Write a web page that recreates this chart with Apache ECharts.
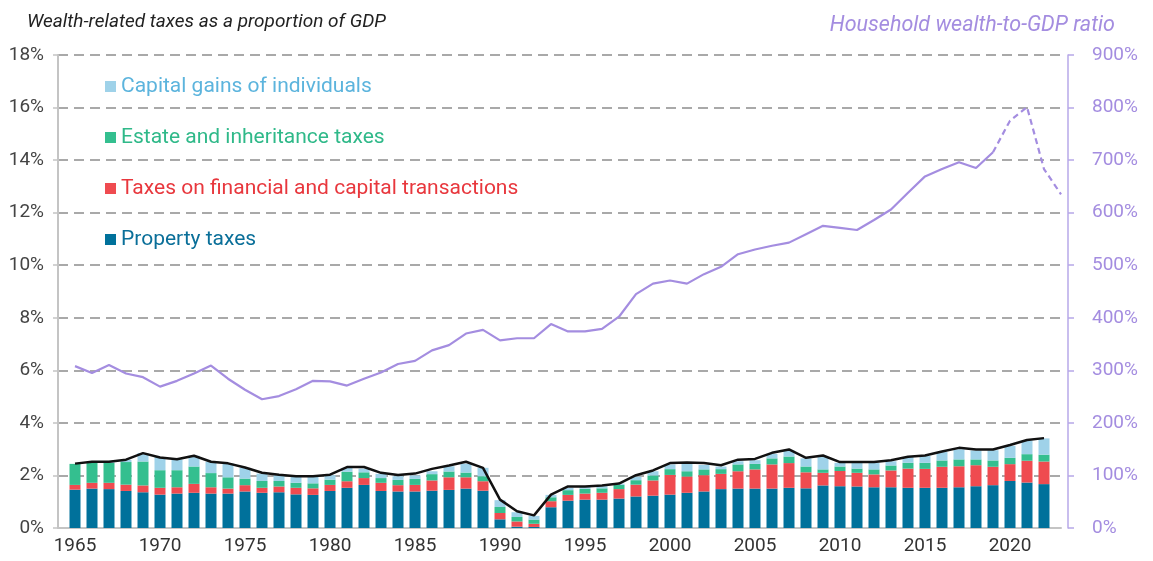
<!DOCTYPE html>
<html>
<head>
<meta charset="utf-8">
<script src="https://cdn.jsdelivr.net/npm/echarts@6/dist/echarts.min.js"></script>
<style>
  html, body { margin: 0; padding: 0; background: #fff; }
  #chart { width: 1153px; height: 561px; }
</style>
</head>
<body>
<div id="chart"></div>
<script>
// Years on the axis (1964 and 2023 only pad the ends)
var years = [];
for (var y = 1964; y <= 2023; y++) years.push(String(y));

// Wealth-related taxes, % of GDP, 1965-2022
var propertyTaxes = [1.46, 1.50, 1.48, 1.41, 1.36, 1.27, 1.31, 1.34, 1.31, 1.31,
  1.39, 1.34, 1.36, 1.28, 1.26, 1.41, 1.53, 1.64, 1.41, 1.39,
  1.39, 1.42, 1.45, 1.50, 1.42, 0.33, 0.05, 0.04, 0.79, 1.04,
  1.08, 1.08, 1.12, 1.20, 1.23, 1.27, 1.34, 1.39, 1.48, 1.50,
  1.50, 1.50, 1.53, 1.51, 1.62, 1.59, 1.58, 1.55, 1.55, 1.53,
  1.53, 1.53, 1.55, 1.59, 1.63, 1.79, 1.73, 1.67];
var financialTaxes = [0.18, 0.22, 0.24, 0.24, 0.26, 0.26, 0.24, 0.34, 0.24, 0.19,
  0.24, 0.19, 0.22, 0.25, 0.25, 0.23, 0.25, 0.26, 0.31, 0.24,
  0.25, 0.39, 0.48, 0.43, 0.36, 0.24, 0.20, 0.12, 0.23, 0.22,
  0.23, 0.26, 0.36, 0.45, 0.58, 0.75, 0.62, 0.62, 0.58, 0.66,
  0.73, 0.92, 0.94, 0.61, 0.48, 0.58, 0.52, 0.49, 0.64, 0.73,
  0.72, 0.80, 0.80, 0.80, 0.70, 0.64, 0.83, 0.86];
var estateTaxes = [0.80, 0.76, 0.76, 0.86, 0.91, 0.67, 0.65, 0.66, 0.54, 0.43,
  0.25, 0.26, 0.21, 0.19, 0.19, 0.20, 0.36, 0.22, 0.18, 0.20,
  0.23, 0.24, 0.22, 0.18, 0.19, 0.23, 0.17, 0.16, 0.15, 0.18,
  0.18, 0.17, 0.16, 0.17, 0.19, 0.22, 0.20, 0.22, 0.18, 0.26,
  0.21, 0.23, 0.25, 0.22, 0.13, 0.17, 0.16, 0.19, 0.19, 0.22,
  0.23, 0.24, 0.26, 0.22, 0.24, 0.24, 0.25, 0.26];
var capitalGains = [0.00, 0.04, 0.04, 0.08, 0.32, 0.50, 0.41, 0.41, 0.43, 0.53,
  0.41, 0.28, 0.22, 0.23, 0.25, 0.17, 0.15, 0.14, 0.16, 0.14,
  0.13, 0.11, 0.20, 0.34, 0.32, 0.26, 0.18, 0.14, 0.09, 0.09,
  0.09, 0.08, 0.05, 0.13, 0.16, 0.18, 0.28, 0.17, 0.10, 0.12,
  0.14, 0.17, 0.23, 0.31, 0.47, 0.14, 0.22, 0.25, 0.16, 0.22,
  0.26, 0.32, 0.38, 0.34, 0.39, 0.46, 0.52, 0.62];
var totalTaxes = [2.45, 2.52, 2.52, 2.60, 2.85, 2.68, 2.62, 2.75, 2.52, 2.46,
  2.30, 2.10, 2.03, 1.97, 1.97, 2.03, 2.32, 2.32, 2.10, 2.02,
  2.07, 2.25, 2.38, 2.52, 2.29, 1.08, 0.64, 0.48, 1.27, 1.58,
  1.58, 1.62, 1.69, 2.01, 2.19, 2.47, 2.49, 2.47, 2.39, 2.60,
  2.63, 2.86, 2.99, 2.67, 2.76, 2.51, 2.51, 2.51, 2.58, 2.71,
  2.76, 2.91, 3.05, 2.99, 2.99, 3.16, 3.35, 3.42];

// Household wealth-to-GDP ratio, %, 1965-2023 (dashed from 2019)
var wealthRatio = [308, 295, 310, 294, 287, 269, 280, 294, 309, 284,
  263, 245, 251, 264, 280, 279, 271, 284, 296, 312,
  318, 338, 348, 370, 377, 357, 361, 361, 388, 374,
  374, 379, 402, 445, 465, 471, 465, 483, 497, 521,
  530, 537, 543, 559, 575, 571, 567, 586, 606, 638,
  669, 683, 696, 685, 715, 775, 801, 683, 635];
var dashFrom = '2019';

var leftTicks = { min: 0, max: 18, interval: 2 };
var rightTicks = { min: 0, max: 900, interval: 100 };

var colors = {
  property: '#00719b',
  financial: '#ef4b50',
  estate: '#34bf8f',
  gains: '#9fd2e9',
  wealth: '#a48de0'
};
var font = 'Roboto, "Noto Sans", sans-serif';

// pad the series so index 0 is the empty 1964 slot
function pad(arr) { return ['-'].concat(arr); }

var wealthAll = pad(wealthRatio);
var cut = years.indexOf(dashFrom);
var wealthSolid = wealthAll.map(function (v, i) { return i <= cut ? v : '-'; });
var wealthDashed = wealthAll.map(function (v, i) { return i >= cut ? v : '-'; });

function barSeries(name, data, color) {
  return {
    name: name,
    type: 'bar',
    stack: 'tax',
    barWidth: 11,
    data: pad(data),
    itemStyle: { color: color },
    emphasis: { disabled: true }
  };
}

var myChart = echarts.init(document.getElementById('chart'));

myChart.setOption({
  animation: false,
  textStyle: { fontFamily: font },
  title: [{
    text: 'Wealth-related taxes as a proportion of GDP',
    left: 22, top: 8,
    textStyle: { fontFamily: font, fontStyle: 'italic', fontWeight: 'normal', fontSize: 19, color: '#222' }
  }, {
    text: 'Household wealth-to-GDP ratio',
    right: 33, top: 10,
    textStyle: { fontFamily: font, fontStyle: 'italic', fontWeight: 'normal', fontSize: 21.5, color: colors.wealth }
  }],
  legend: {
    orient: 'vertical',
    left: 100, top: 71,
    icon: 'rect',
    itemWidth: 11, itemHeight: 11,
    itemGap: 30,
    textStyle: { fontFamily: font, fontSize: 21 },
    data: [
      { name: 'Capital gains of individuals', textStyle: { color: '#5cb4dd' } },
      { name: 'Estate and inheritance taxes', textStyle: { color: '#2fb989' } },
      { name: 'Taxes on financial and capital transactions', textStyle: { color: '#e8373d' } },
      { name: 'Property taxes', textStyle: { color: '#0a6f99' } }
    ]
  },
  grid: { left: 58, right: 92, top: 55, bottom: 33 },
  xAxis: {
    type: 'category',
    data: years,
    boundaryGap: false,
    axisLine: { lineStyle: { color: '#c4c4c4', width: 2 } },
    axisTick: { show: false },
    axisLabel: {
      interval: function (i, v) { return Number(v) % 5 === 0; },
      color: '#333', fontSize: 19, margin: 9
    },
    splitLine: { show: false }
  },
  yAxis: [{
    type: 'value',
    min: leftTicks.min, max: leftTicks.max, interval: leftTicks.interval,
    axisLine: { show: true, lineStyle: { color: '#c4c4c4', width: 2 } },
    axisTick: { show: true, length: 5, lineStyle: { color: '#c4c4c4', width: 1.5 } },
    axisLabel: { formatter: '{value}%', color: '#444', fontSize: 19, margin: 14 },
    splitLine: { lineStyle: { color: '#a9a9a9', width: 2, type: [10, 6] } }
  }, {
    type: 'value',
    position: 'right',
    offset: 7,
    min: rightTicks.min, max: rightTicks.max, interval: rightTicks.interval,
    axisLine: { show: true, lineStyle: { color: '#b7a8e8', width: 1.5 } },
    axisTick: { show: true, length: 6, lineStyle: { color: '#b7a8e8', width: 1.5 } },
    axisLabel: { formatter: '{value}%', color: colors.wealth, fontSize: 19, margin: 24 },
    splitLine: { show: false }
  }],
  series: [
    barSeries('Property taxes', propertyTaxes, colors.property),
    barSeries('Taxes on financial and capital transactions', financialTaxes, colors.financial),
    barSeries('Estate and inheritance taxes', estateTaxes, colors.estate),
    barSeries('Capital gains of individuals', capitalGains, colors.gains),
    {
      name: 'Total',
      type: 'line',
      data: pad(totalTaxes),
      symbol: 'none',
      lineStyle: { color: '#111', width: 2.5 },
      z: 5
    },
    {
      name: 'Wealth-to-GDP',
      type: 'line',
      yAxisIndex: 1,
      data: wealthSolid,
      symbol: 'none',
      lineStyle: { color: colors.wealth, width: 2.2 },
      z: 4
    },
    {
      name: 'Wealth-to-GDP (est.)',
      type: 'line',
      yAxisIndex: 1,
      data: wealthDashed,
      symbol: 'none',
      lineStyle: { color: colors.wealth, width: 2.2, type: [6, 4] },
      z: 4
    }
  ]
});
</script>
</body>
</html>
